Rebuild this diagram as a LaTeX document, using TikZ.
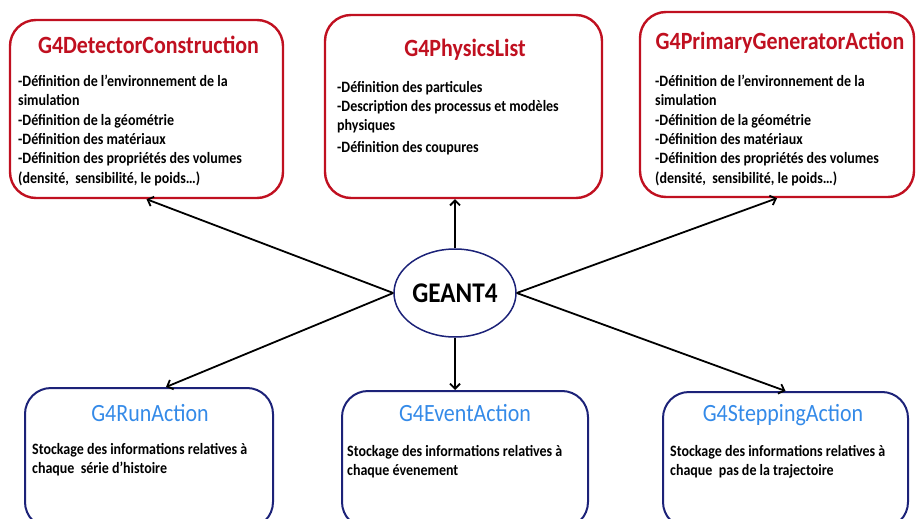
\documentclass[tikz,border=0pt]{standalone}
\usepackage{fontspec}
\setmainfont{Carlito}
\newfontfamily\tallfont[FakeStretch=0.885]{Carlito}
\usepackage{tikz}
\usetikzlibrary{shapes.geometric,arrows.meta}
\usepackage{xcolor}
\definecolor{gred}{RGB}{192,16,32}
\definecolor{gnavy}{RGB}{28,34,120}
\definecolor{gblue}{RGB}{52,138,232}

\begin{document}
\begin{tikzpicture}[x=1pt, y=-1pt,
    redbox/.style={draw=gred, line width=2.4pt, rounded corners=26pt, inner sep=0pt},
    bluebox/.style={draw=gnavy, line width=2pt, rounded corners=26pt, inner sep=0pt},
    redtitle/.style={text=gred, font=\tallfont\fontsize{24.8}{28}\selectfont\bfseries, inner sep=0pt},
    bluetitle/.style={text=gblue, font=\tallfont\fontsize{24.8}{28}\selectfont, inner sep=0pt},
    body/.style={anchor=north west, align=left, inner sep=0pt, font=\tallfont\fontsize{15.8}{19.3}\selectfont\bfseries},
    link/.style={line width=1.8pt, -{Straight Barb[length=5pt,width=10pt]}}]
  \useasboundingbox (0,0) rectangle (916,519);
  \clip (0,0) rectangle (916,519);
  % upper row
  \node[redbox, minimum width=273pt, minimum height=178pt] (detbox) at (146.5,109) {};
  \node[redbox, minimum width=277pt, minimum height=183pt] (physbox) at (463.5,106.5) {};
  \node[redbox, minimum width=274pt, minimum height=185pt] (primbox) at (777,104.5) {};
  \node[redtitle] (dettitle) at (148.5,45) {G4DetectorConstruction};
  \node[redtitle] (phystitle) at (465,50) {G4PhysicsList};
  \node[redtitle] (primtitle) at (780,43) {G4PrimaryGeneratorAction};
  \node[body] (dettext) at (18,75) {-Définition de l’environnement de la\\simulation\\-Définition de la géométrie\\-Définition des matériaux\\-Définition des propriétés des volumes\\(densité,\ \ sensibilité, le poids…)};
  \node[body] (phystext) at (337,81) {-Définition des particules\\-Description des processus et modèles\\physiques\\[2pt]-Définition des coupures};
  \node[body] (primtext) at (655,75) {-Définition de l’environnement de la\\simulation\\-Définition de la géométrie\\-Définition des matériaux\\-Définition des propriétés des volumes\\(densité,\ \ sensibilité, le poids…)};
  % lower row
  \node[bluebox, minimum width=248pt, minimum height=140pt] (runbox) at (149,458) {};
  \node[bluebox, minimum width=246pt, minimum height=137pt] (eventbox) at (465,459.5) {};
  \node[bluebox, minimum width=245pt, minimum height=136pt] (stepbox) at (785.5,460) {};
  \node[bluetitle] (runtitle) at (150,413) {G4RunAction};
  \node[bluetitle] (eventtitle) at (465,413) {G4EventAction};
  \node[bluetitle] (steptitle) at (783,415) {G4SteppingAction};
  \node[body] (runtext) at (32,443) {Stockage des informations relatives à\\chaque\ \ série d’histoire};
  \node[body] (eventtext) at (347,445) {Stockage des informations relatives à\\chaque évenement};
  \node[body] (steptext) at (670,445) {Stockage des informations relatives à\\chaque\ \ pas de la trajectoire};
  % centre
  \node[ellipse, draw=gnavy, line width=1.5pt, minimum width=122pt, minimum height=88pt, inner sep=0pt,
        font=\tallfont\fontsize{28.5}{32}\selectfont\bfseries] (geant) at (455,293) {GEANT4};
  \draw[link] (geant.west) -- (detbox.south);
  \draw[link] (geant.north) -- (geant.north |- physbox.south);
  \draw[link] (geant.east) -- (primbox.south);
  \draw[link] (geant.west) -- ([xshift=17pt]runbox.north);
  \draw[link] (geant.south) -- (geant.south |- eventbox.north);
  \draw[link] (geant.east) -- (stepbox.north);
\end{tikzpicture}
\end{document}
